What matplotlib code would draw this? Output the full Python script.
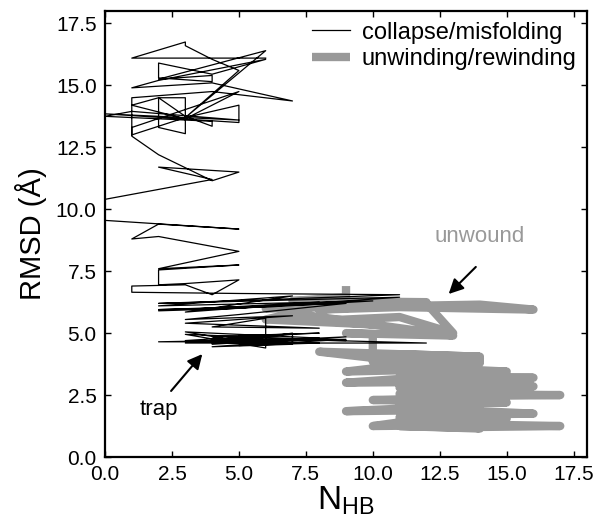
import matplotlib
matplotlib.use("Agg")
import matplotlib.pyplot as plt

plt.rcParams['font.family'] = ['Liberation Sans', 'DejaVu Sans']
plt.rcParams['mathtext.fontset'] = 'custom'
plt.rcParams['mathtext.rm'] = 'Liberation Sans'

# collapse/misfolding trajectory (N_HB, RMSD)
black_nhb = [6, 1, 3, 3, 4, 5, 3, 6, 2, 4, 4, 2, 2, 4, 6, 2, 1, 4, 7, 4,
             1, 1, 3, 5, 5, 0, 5, 1, 0, 4, 4, 3, 2, 3, 3, 2, 2, 1, 3, 5,
             1, 1, 2, 4, 5, 2, 4, 0, 0, 5, 2, 1, 2, 5, 2, 5, 2, 2, 3, 5,
             4, 3, 1, 1, 5, 11, 6, 2, 11, 5, 2, 8, 3, 7, 2, 10, 6, 2, 9, 5,
             3, 7, 3, 8, 4, 6, 6, 3, 9, 4, 7, 3, 12, 5, 7, 4, 9, 5, 2, 7,
             4, 7, 7, 5, 8, 4, 6, 3, 8, 4, 6, 3, 8, 5, 9, 4]
black_rmsd = [16.1, 16.1, 16.75, 16.6, 16.05, 15.6, 13.7, 16.4, 15.25, 15.4,
              15.15, 15.3, 15.9, 15.45, 16.05, 15.2, 14.9, 15.1, 14.37, 14.75,
              14.5, 13.0, 13.7, 14.2, 13.5, 13.85, 13.6, 13.95, 13.75, 13.55,
              13.35, 13.75, 14.5, 14.5, 13.05, 13.3, 14.5, 14.2, 13.65, 14.75,
              13.3, 12.95, 12.2, 11.15, 11.5, 11.7, 11.2, 10.4, 9.55, 9.2,
              9.4, 8.8, 8.9, 8.3, 7.6, 7.75, 7.55, 6.95, 7.0, 7.15,
              6.55, 6.95, 6.9, 6.65, 6.6, 6.55, 6.35, 6.2, 6.45, 6.0,
              5.9, 6.25, 5.85, 6.5, 6.1, 6.3, 6.05, 5.95, 6.2, 5.75,
              5.55, 5.7, 5.4, 5.2, 5.25, 5.6, 4.4, 4.95, 4.7, 4.75,
              4.95, 4.6, 4.6, 4.8, 4.55, 4.45, 4.85, 4.65, 4.65, 4.75,
              4.55, 5.0, 4.55, 4.9, 5.0, 4.85, 4.5, 5.05, 4.8, 4.6,
              4.9, 4.7, 4.6, 4.5, 4.75, 4.7]

# unwinding/rewinding trajectory (N_HB, RMSD)
gray_nhb = [9, 9, 7, 12, 6, 14, 16, 11, 8, 12, 13, 11, 8, 10, 6, 7, 11, 13, 9, 10,
            10, 8, 14, 11, 14, 12, 13, 10, 14, 11, 9, 13, 15, 11, 14, 12, 16, 11, 9, 14,
            12, 16, 11, 14, 12, 15, 11, 17, 12, 14, 10, 13, 15, 11, 14, 12, 9, 13, 16, 12,
            14, 11, 15, 13, 11, 10, 14, 12, 17, 13, 11, 14, 12, 13, 11, 14, 12, 13]
gray_rmsd = [6.9, 6.45, 6.3, 6.25, 6.0, 6.15, 5.95, 6.05, 5.95, 6.2, 5.0, 5.65, 5.5, 5.35, 5.55, 5.8, 5.2, 4.9, 5.0, 4.95,
             4.0, 4.25, 4.05, 4.15, 3.95, 4.1, 3.9, 3.85, 3.8, 3.7, 3.45, 3.55, 3.45, 3.4, 3.35, 3.25, 3.2, 3.15, 3.0, 3.05,
             2.95, 2.85, 2.8, 2.75, 2.65, 2.6, 2.55, 2.5, 2.45, 2.4, 2.3, 2.25, 2.2, 2.15, 2.05, 2.0, 1.85, 1.9, 1.75, 1.7,
             1.65, 1.6, 1.55, 1.5, 1.4, 1.25, 1.3, 1.35, 1.25, 1.2, 1.25, 1.15, 1.5, 2.2, 2.9, 3.5, 3.6, 4.0]

gray = '#999999'

fig = plt.figure(figsize=(5.97, 5.25), dpi=100)
ax = fig.add_axes([0.1759, 0.1295, 0.8074, 0.8495])

ax.plot(gray_nhb, gray_rmsd, color=gray, lw=6, zorder=2,
        solid_joinstyle='round', solid_capstyle='butt', label='unwinding/rewinding')
ax.plot(black_nhb, black_rmsd, color='black', lw=0.9, zorder=3,
        label='collapse/misfolding')

ax.set_xlim(0, 18)
ax.set_ylim(0, 18)
ticks = [0, 2.5, 5, 7.5, 10, 12.5, 15, 17.5]
ax.set_xticks(ticks)
ax.set_yticks(ticks)
ax.tick_params(direction='in', top=True, right=True, length=4, width=1,
               labelsize=15, pad=6)
for s in ax.spines.values():
    s.set_linewidth(1.6)

ax.set_xlabel(r'N$_{\mathrm{HB}}$', fontsize=24, labelpad=0)
ax.set_ylabel('RMSD (Å)', fontsize=21, labelpad=6)

handles, labels = ax.get_legend_handles_labels()
ax.legend(handles[::-1], labels[::-1], loc='upper right', frameon=False,
          fontsize=17, handlelength=1.6, handletextpad=0.5, labelspacing=0.2,
          borderaxespad=0.05)

ax.annotate('', xy=(12.76, 6.5), xytext=(13.92, 7.75),
            arrowprops=dict(arrowstyle='-|>', color='black', lw=1.5, mutation_scale=22))
ax.text(14.0, 8.88, 'unwound', color=gray, fontsize=16, ha='center', va='center')
ax.annotate('', xy=(3.7, 4.24), xytext=(2.4, 2.58),
            arrowprops=dict(arrowstyle='-|>', color='black', lw=1.5, mutation_scale=22))
ax.text(2.02, 1.9, 'trap', color='black', fontsize=16, ha='center', va='center')

fig.savefig('out.png', dpi=100)
